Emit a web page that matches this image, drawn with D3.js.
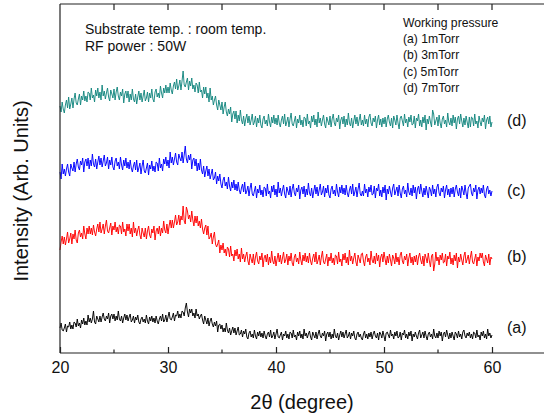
<!DOCTYPE html>
<html>
<head>
<meta charset="utf-8">
<script src="https://cdn.jsdelivr.net/npm/d3@7"></script>
<style>
  html, body { margin: 0; padding: 0; background: #fff; }
  svg { display: block; font-family: "Liberation Sans", Arial, sans-serif; }
</style>
</head>
<body>
<svg id="chart" width="544" height="418"></svg>
<script>
// ---- data (intensity, arbitrary units, stacked as plotted) ----
const twoThetaStart = 20, twoThetaStep = 0.1;   // 401 samples, 20..60 degrees
const seriesLabels = ["(a)", "(b)", "(c)", "(d)"];
const pressureLabels = ["(a) 1mTorr", "(b) 3mTorr", "(c) 5mTorr", "(d) 7mTorr"];
const xTicks = [20, 30, 40, 50, 60];

const intensityA = [
25,30,23,22,25,29,21,27,26,31, 24,28,24,31,30,26,34,27,30,25, 33,29,35,28,32,28,38,31,35,30,
34,42,31,29,37,34,31,37,31,36, 40,34,32,37,34,40,30,37,39,34, 39,32,37,33,42,34,32,37,30,35,
39,33,38,32,36,39,31,33,37,30, 36,33,38,31,29,34,36,31,34,30, 38,32,29,36,32,37,31,35,30,37,
32,29,34,37,32,39,31,33,38,31, 36,41,34,33,36,40,32,38,37,42, 35,39,35,42,41,37,45,50,41,36,
44,40,44,37,40,35,44,37,39,34, 37,39,33,29,37,33,29,35,27,32, 35,29,26,31,27,32,21,28,29,24,
28,21,25,21,30,23,20,25,18,22, 26,20,25,18,22,26,18,19,23,16, 22,19,24,16,14,20,22,16,19,15,
23,17,14,21,17,22,16,20,15,22, 17,14,19,21,16,23,15,17,21,14, 19,24,16,15,18,21,13,19,17,22,
15,19,14,21,20,15,23,16,18,13, 21,17,22,15,19,14,24,17,20,15, 19,22,16,13,21,18,15,21,14,19,
23,17,15,20,17,22,12,19,21,16, 21,14,19,15,24,17,15,20,13,18, 22,16,21,15,19,23,15,17,21,14,
20,17,22,15,13,19,21,16,19,15, 13,19,22,15,19,14,20,16,21,14, 19,22,17,15,20,13,21,19,15,22,
17,12,20,21,18,15,23,17,19,14, 21,17,22,15,16,21,13,20,18,23, 15,19,14,21,17,22,12,19,16,21,
17,14,20,23,15,18,21,15,22,17, 13,19,21,16,19,14,24,17,15,20, 15,22,17,21,12,19,21,16,23,18,
14,20,15,21,17,13,21,19,15,22, 16,19,14,21,23,17,15,20,17,21, 15,19,14,21,20,15,23,16,18,13,
21,17,22,15,19,14,24,17,20,15, 18];

const intensityB = [
103,111,117,109,116,108,114,121,110,114, 120,109,119,114,123,113,110,120,123,116,
120,114,127,119,114,125,119,127,119,125, 118,128,121,117,124,129,121,131,120,124,
129,119,127,133,122,120,125,130,118,127, 123,131,121,126,119,128,127,119,131,121,
124,117,129,122,129,119,125,116,131,120, 125,117,123,127,118,114,125,120,116,125,
114,122,127,118,115,124,120,127,113,122, 125,119,127,117,125,120,132,123,120,129,
119,127,133,125,133,125,131,138,128,131, 138,128,137,133,147,132,129,146,142,134,
138,131,142,133,127,137,130,137,127,132, 125,134,124,119,125,128,118,127,114,116,
120,109,116,121,109,106,109,113,100,108, 103,110,100,104,97,106,104,96,107,97,
99,92,103,97,104,94,99,91,105,94, 99,91,97,101,92,88,99,94,90,99,
88,96,101,92,89,97,93,100,86,95, 98,91,99,88,96,90,102,92,89,97,
87,94,100,91,98,89,95,101,90,93, 99,88,97,92,100,90,87,96,99,91,
95,89,101,93,88,98,92,100,91,97, 90,100,92,88,95,99,91,101,89,93,
98,88,96,102,91,89,94,99,87,96, 92,100,90,95,88,98,97,89,101,91,
94,87,99,93,100,90,96,88,103,92, 97,89,95,100,91,87,98,94,90,99,
100,92,87,96,99,91,95,88,102,93, 90,97,89,100,92,98,86,96,99,91,
101,94,88,97,90,99,93,87,98,95, 89,100,91,96,88,98,101,92,89,97,
93,99,87,95,100,90,96,88,97,91, 98,88,96,100,93,89,97,87,99,95,
90,100,92,86,97,99,82,89,101,92, 96,88,98,93,100,90,91,99,87,97,
94,101,89,95,88,98,92,100,85,96, 91,99,93,88,97,101,90,94,98,89,
96,102,91,89,94,99,87,96,92,100, 95,100,91,87,98,94,90,99,88,96, 94];

const intensityC = [
181,174,189,179,184,177,184,189,181,177, 189,185,182,191,181,189,194,186,183,192,
188,195,181,191,194,187,195,184,193,187, 199,189,186,194,184,191,197,188,195,186,
192,198,187,190,196,184,193,188,196,186, 183,192,195,187,191,184,196,188,183,193,
187,195,185,191,184,193,185,181,187,191, 183,193,181,185,190,179,187,193,182,180,
185,190,178,188,184,192,182,187,181,191, 190,182,195,185,189,182,194,189,196,187,
193,185,201,190,196,188,194,200,191,188, 199,195,192,201,190,198,207,194,190,198,
193,199,184,193,195,187,194,182,190,183, 194,183,179,187,176,182,187,177,184,174,
179,184,173,175,181,169,177,172,179,169, 165,173,176,167,171,164,176,167,162,171,
165,173,163,169,162,171,163,159,165,169, 161,171,159,162,167,157,165,170,159,157,
162,167,155,164,160,168,158,163,156,166, 165,157,169,159,162,155,167,161,168,158,
164,156,171,160,165,157,163,168,159,155, 166,162,158,167,156,164,169,160,157,165,
161,168,154,163,166,159,167,156,164,158, 170,160,157,165,155,162,168,159,166,157,
163,169,158,161,167,156,165,160,168,158, 155,164,167,159,163,157,169,161,156,166,
160,168,159,165,158,168,160,156,163,167, 159,169,157,161,166,156,164,170,159,157,
162,157,169,160,164,156,166,161,168,158, 159,167,155,165,162,169,157,163,156,166,
160,168,153,164,159,167,161,156,165,169, 158,162,166,157,168,160,155,164,167,159,
163,156,170,161,158,165,157,168,160,166, 154,164,167,159,169,162,156,165,158,167,
161,155,166,163,157,168,159,164,156,166, 169,160,157,165,161,167,155,163,168,158,
164,156,165,159,166,156,164,168,161,157, 165,155,167,163,158,168,160,154,165,167,
169,160,157,165,161,168,154,163,166,159, 165,160,168,158,155,164,167,159,163,157, 162];

const intensityD = [
247,241,251,244,240,248,253,245,256,244, 249,255,245,254,260,250,248,254,259,248,
257,253,262,252,257,251,261,260,253,265, 255,258,251,263,257,265,255,261,253,268,
257,262,254,260,265,256,252,263,259,255, 264,253,261,266,257,253,261,257,264,250,
259,262,255,262,251,259,253,264,254,251, 259,249,256,262,253,260,251,257,263,252,
255,261,251,260,255,264,254,251,261,264, 256,260,255,267,260,255,265,260,268,260,
266,260,270,263,259,267,271,264,274,263, 267,273,263,272,282,268,266,271,275,263,
272,267,275,264,268,261,270,268,260,271, 261,263,255,266,259,266,255,260,251,265,
253,257,248,253,257,248,243,253,248,243, 251,239,246,251,241,237,244,239,246,231,
239,242,234,242,230,238,232,243,233,229, 237,227,234,239,230,237,228,233,239,228,
231,237,226,235,230,238,228,225,234,237, 229,233,227,239,231,226,236,230,238,229,
235,228,238,230,226,233,237,229,239,227, 231,236,226,234,240,229,227,232,237,225,
234,230,238,228,233,226,236,235,227,239, 229,232,225,237,231,238,228,234,226,241,
230,235,227,233,238,229,225,236,232,228, 237,226,234,239,230,227,235,231,238,224,
233,236,229,237,226,234,228,240,230,227, 235,225,232,238,229,236,227,233,239,228,
233,227,238,229,234,226,236,239,230,227, 235,231,237,225,233,238,228,234,226,235,
229,236,226,234,238,231,227,235,225,237, 233,228,238,230,224,235,237,232,227,239,
230,234,226,236,231,238,228,229,237,225, 235,232,239,227,233,226,236,230,238,223,
234,229,237,231,226,243,239,228,232,236, 227,238,230,225,234,237,229,233,226,240,
231,228,235,227,238,230,236,224,234,237, 229,239,232,226,235,228,237,231,225,236,
226,236,235,227,239,229,232,225,237,231, 227,235,231,238,224,233,236,229,237,226, 231];

const seriesValues = [intensityA, intensityB, intensityC, intensityD];
const seriesColors = ["#000000", "#ff0000", "#0000ff", "#15877f"];

// ---- chart ----
const svg = d3.select("#chart");
const mLeft = 60, mTop = 4, mBottom = 353, mRight = 546;

const x = d3.scaleLinear().domain([20, 65]).range([mLeft, mRight]);
const y = d3.scaleLinear().domain([0, 349]).range([mBottom, mTop]);

// traces
const line = d3.line()
  .x((d, i) => x(twoThetaStart + i * twoThetaStep))
  .y(d => y(d));

svg.append("g").selectAll("path")
  .data(seriesValues)
  .join("path")
  .attr("d", d => line(d))
  .attr("fill", "none")
  .attr("stroke", (d, i) => seriesColors[i])
  .attr("stroke-width", 0.95)
  .attr("stroke-linejoin", "round");

// frame lines
const frame = svg.append("g").attr("stroke", "#222").attr("stroke-width", 1.2).attr("fill", "none");
frame.append("line").attr("x1", mLeft).attr("x2", mLeft).attr("y1", mTop).attr("y2", mBottom);
frame.append("line").attr("x1", mLeft).attr("x2", 544).attr("y1", mTop).attr("y2", mTop);
frame.append("line").attr("x1", mLeft).attr("x2", 544).attr("y1", mBottom).attr("y2", mBottom);

// bottom axis (ticks inward)
const xAxisB = d3.axisBottom(x).tickValues(xTicks).tickSizeInner(-6).tickSizeOuter(0)
  .tickFormat(d3.format("d")).tickPadding(9);
const gB = svg.append("g").attr("transform", `translate(0,${mBottom})`).call(xAxisB);
gB.select(".domain").remove();
gB.selectAll(".tick line").attr("stroke", "#222").attr("stroke-width", 1.2);
gB.selectAll(".tick text").attr("font-size", 16).attr("fill", "#111")
  .attr("font-family", "Liberation Sans, Arial, sans-serif");

const minorTicks = [25, 35, 45, 55];
svg.append("g").selectAll("line").data(minorTicks).join("line")
  .attr("x1", d => x(d)).attr("x2", d => x(d))
  .attr("y1", mBottom).attr("y2", mBottom - 3.5)
  .attr("stroke", "#222").attr("stroke-width", 1.2);

// top axis ticks (inward)
const topTicks = [25, 30, 35, 40, 45, 50, 55, 60];
svg.append("g").selectAll("line").data(topTicks).join("line")
  .attr("x1", d => x(d)).attr("x2", d => x(d))
  .attr("y1", mTop).attr("y2", mTop + 6)
  .attr("stroke", "#222").attr("stroke-width", 1.2);

// axis titles
svg.append("text")
  .attr("x", 302).attr("y", 409)
  .attr("text-anchor", "middle")
  .attr("font-size", 20).attr("fill", "#111")
  .text("2θ (degree)");

svg.append("text")
  .attr("transform", "translate(28,191) rotate(-90)")
  .attr("text-anchor", "middle")
  .attr("font-size", 20).attr("fill", "#111")
  .text("Intensity (Arb. Units)");

// annotations
const ann = svg.append("g").attr("fill", "#111");
ann.append("text").attr("x", 85).attr("y", 34).attr("font-size", 14).text("Substrate temp. : room temp.");
ann.append("text").attr("x", 85).attr("y", 51).attr("font-size", 14).text("RF power : 50W");

const legendLines = ["Working pressure"].concat(pressureLabels);
ann.selectAll("text.wp").data(legendLines).join("text")
  .attr("class", "wp")
  .attr("x", 403)
  .attr("y", (d, i) => 27 + i * 16.2)
  .attr("font-size", 12.2)
  .text(d => d);

// series labels at the right end of each trace
const labelX = 507;
const labelShift = [-2, 3, 5, 5];
svg.append("g").selectAll("text").data(seriesLabels).join("text")
  .attr("x", labelX)
  .attr("y", (d, i) => y(d3.mean(seriesValues[i].slice(-50))) + labelShift[i])
  .attr("font-size", 16).attr("fill", "#111")
  .text(d => d);
</script>
</body>
</html>
